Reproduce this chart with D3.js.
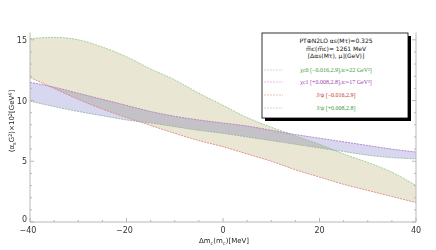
<!DOCTYPE html>
<html>
<head>
<meta charset="utf-8">
<script src="https://cdn.jsdelivr.net/npm/d3@7"></script>
<style>
  body { margin: 0; background: #fff; }
  svg { display: block; }
</style>
</head>
<body>
<div id="chart"></div>
<script>
// values, x = Δm_c in MeV
const xs = [-40, -35, -30, -25, -20, -15, -10, -5, 0, 5, 10, 15, 20, 25, 30, 35, 40];
const chic0_up   = [15.1, 15.2, 15.0, 14.4, 13.6, 12.6, 11.7, 10.6, 9.6, 8.6, 7.8, 7.1, 6.4, 5.6, 4.9, 4.1, 3.0];
const jpsi_minus = [11.9, 11.0, 10.1, 9.3, 8.6, 7.95, 7.3, 6.7, 6.2, 5.6, 5.0, 4.3, 3.7, 3.1, 2.6, 2.1, 1.6];
const chic1_up   = [11.5, 11.1, 10.6, 10.1, 9.6, 9.1, 8.7, 8.4, 8.15, 7.9, 7.55, 7.2, 6.9, 6.6, 6.3, 6.0, 5.76];
const jpsi_plus  = [9.95, 9.5, 9.1, 8.75, 8.4, 8.15, 7.85, 7.55, 7.3, 7.0, 6.7, 6.4, 6.1, 5.8, 5.5, 5.3, 5.2];
const xTicks = [-40, -20, 0, 20, 40];
const yTicks = [0, 5, 10, 15];

const width = 436, height = 250;
const margin = {top: 32.5, right: 20, bottom: 28, left: 30};

const svg = d3.select("#chart").append("svg")
  .attr("width", width).attr("height", height);

const x = d3.scaleLinear().domain([-40, 40]).range([margin.left, width - margin.right]);
const y = d3.scaleLinear().domain([0, 15.6]).range([height - margin.bottom, margin.top]);

// bands
function band(lo, hi) {
  return d3.area().x((d, i) => x(xs[i])).y0((d, i) => y(lo[i])).y1((d, i) => y(hi[i])).curve(d3.curveMonotoneX)(xs);
}
const line = arr => d3.line().x((d, i) => x(xs[i])).y((d, i) => y(arr[i])).curve(d3.curveMonotoneX)(xs);

const g = svg.append("g");
g.append("path").attr("d", band(jpsi_plus, chic1_up))
  .attr("fill", "#d7d7ef").style("mix-blend-mode", "multiply");
g.append("path").attr("d", band(jpsi_minus, chic0_up))
  .attr("fill", "#e9e6d4").style("mix-blend-mode", "multiply");

const curves = [
  {d: chic0_up, c: "#8cc88c"},
  {d: chic1_up, c: "#b070c0"},
  {d: jpsi_minus, c: "#e07878"},
  {d: jpsi_plus, c: "#90b098"}
];
g.selectAll("path.c").data(curves).enter().append("path")
  .attr("class", "c")
  .attr("d", d => line(d.d))
  .attr("fill", "none")
  .attr("stroke", d => d.c)
  .attr("stroke-width", 0.8)
  .attr("stroke-dasharray", "2,1");

// axes (Mathematica-like frame, light gray)
const axCol = "#b8b8b8";
const tickFont = "DejaVu Sans, sans-serif";

let xAxis = svg.append("g").attr("transform", `translate(0,${height - margin.bottom})`);
xAxis.append("line").attr("x1", x(-40)).attr("x2", x(40)).attr("stroke", axCol);
xAxis.selectAll("line.mn").data(d3.range(-40, 41, 5)).enter().append("line")
  .attr("x1", d => x(d)).attr("x2", d => x(d))
  .attr("y1", 0).attr("y2", d => xTicks.includes(d) ? -4 : -2).attr("stroke", axCol);
xAxis.selectAll("text").data(xTicks).enter().append("text")
  .attr("x", d => x(d) + (d < 0 ? -2 : 0)).attr("y", 11)
  .attr("text-anchor", "middle")
  .style("font", "8px " + tickFont).attr("fill", "#333")
  .text(d => d < 0 ? "\u2212" + (-d) : d);

let yAxis = svg.append("g").attr("transform", `translate(${margin.left},0)`);
yAxis.append("line").attr("y1", y(0)).attr("y2", margin.top).attr("stroke", axCol);
yAxis.selectAll("line.mn").data(d3.range(0, 16, 1)).enter().append("line")
  .attr("y1", d => y(d)).attr("y2", d => y(d))
  .attr("x1", 0).attr("x2", d => yTicks.includes(d) ? 4 : 2).attr("stroke", axCol);
yAxis.selectAll("text").data(yTicks).enter().append("text")
  .attr("x", -3).attr("y", d => y(d) + (d === 0 ? 0 : 3))
  .attr("text-anchor", "end")
  .style("font", "8px " + tickFont).attr("fill", "#333")
  .text(d => d);

let rAxis = svg.append("g").attr("transform", `translate(${width - margin.right},0)`);
rAxis.append("line").attr("y1", y(0)).attr("y2", margin.top).attr("stroke", axCol);
rAxis.selectAll("line.mn").data(d3.range(0, 16, 1)).enter().append("line")
  .attr("y1", d => y(d)).attr("y2", d => y(d))
  .attr("x1", 0).attr("x2", d => yTicks.includes(d) ? -4 : -2).attr("stroke", axCol);

// axis titles
const xt = svg.append("text").attr("x", 224).attr("y", 243).attr("text-anchor", "middle")
  .style("font", "7px " + tickFont).attr("fill", "#222");
xt.append("tspan").text("\u0394m");
xt.append("tspan").attr("dy", 1.5).style("font-size", "5px").text("c");
xt.append("tspan").attr("dy", -1.5).text("(m");
xt.append("tspan").attr("dy", 1.5).style("font-size", "5px").text("c");
xt.append("tspan").attr("dy", -1.5).text(")[MeV]");

const yt = svg.append("text").attr("transform", "translate(14,121) rotate(-90)").attr("text-anchor", "middle")
  .style("font", "7px " + tickFont).attr("fill", "#222");
yt.append("tspan").text("\u27e8\u03b1");
yt.append("tspan").attr("dy", 1.5).style("font-size", "5px").text("s");
yt.append("tspan").attr("dy", -1.5).text("G");
yt.append("tspan").attr("dy", -2.5).style("font-size", "5px").text("2");
yt.append("tspan").attr("dy", 2.5).text("\u27e9\u00d710");
yt.append("tspan").attr("dy", -2.5).style("font-size", "5px").text("2");
yt.append("tspan").attr("dy", 2.5).text("[GeV");
yt.append("tspan").attr("dy", -2.5).style("font-size", "5px").text("4");
yt.append("tspan").attr("dy", 2.5).text("]");

// legend box with shadow
const lg = svg.append("g");
lg.append("rect").attr("x", 265).attr("y", 36).attr("width", 146).attr("height", 85).attr("fill", "#000");
lg.append("rect").attr("x", 262).attr("y", 33).attr("width", 146).attr("height", 85)
  .attr("fill", "#fff").attr("stroke", "#000").attr("stroke-width", 0.8);

const lf = "Liberation Serif, serif";
const hdr = ["PT\u2295N2LO  \u03b1s(M\u03c4)=0.325", "m\u0305c(m\u0305c)= 1261 MeV", "[\u0394\u03b1s(M\u03c4), \u03bc](GeV)]"];
lg.selectAll("text.h").data(hdr).enter().append("text")
  .attr("x", 336).attr("y", (d, i) => 43 + i * 7.5)
  .attr("text-anchor", "middle")
  .style("font", "6px " + tickFont).attr("fill", "#111")
  .text(d => d);

const entries = [
  {t: "\u03c7c0 [\u22120.016,2.9],tc=22 GeV\u00b2]", c: "#3a9a3a", lc: "#b8dcb8", y: 72},
  {t: "\u03c7c1 [+0.008,2.8],tc=17 GeV\u00b2]", c: "#a040b0", lc: "#d8b0e0", y: 84},
  {t: "J/\u03c8 [\u22120.016,2.9]", c: "#c03030", lc: "#eab0b0", y: 97},
  {t: "J/\u03c8 [+0.008,2.8]", c: "#3a9a3a", lc: "#b8dcb8", y: 110}
];
lg.selectAll("line.s").data(entries).enter().append("line")
  .attr("x1", 264).attr("x2", 283).attr("y1", d => d.y - 2).attr("y2", d => d.y - 2)
  .attr("stroke", d => d.lc).attr("stroke-width", 0.8).attr("stroke-dasharray", "2,1");
lg.selectAll("text.e").data(entries).enter().append("text")
  .attr("x", 336).attr("y", d => d.y)
  .attr("text-anchor", "middle")
  .style("font", "6px " + lf).attr("fill", d => d.c)
  .text(d => d.t);
</script>
</body>
</html>
